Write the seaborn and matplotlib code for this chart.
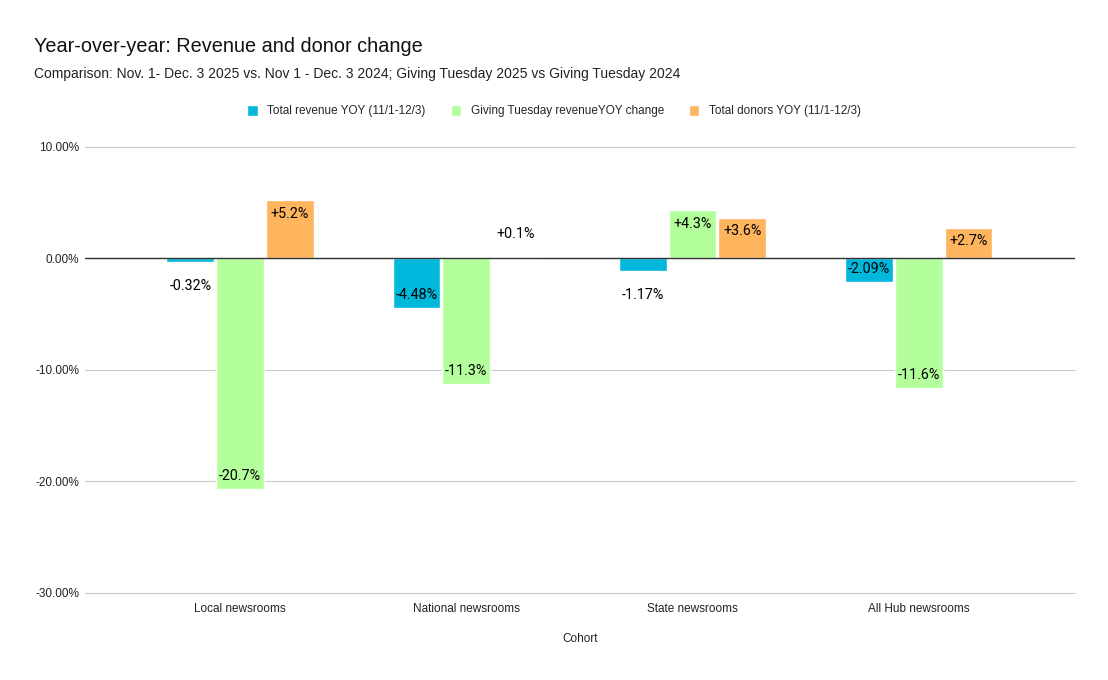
import pandas as pd
import seaborn as sns
import matplotlib.pyplot as plt
from matplotlib.ticker import FuncFormatter

# Données
cohorts = ['Local newsrooms', 'National newsrooms', 'State newsrooms', 'All Hub newsrooms']
series = ['Total revenue YOY (11/1-12/3)', 'Giving Tuesday revenueYOY change', 'Total donors YOY (11/1-12/3)']
total_revenue = [-0.32, -4.48, -1.17, -2.09]
giving_tuesday = [-20.7, -11.3, 4.3, -11.6]
total_donors = [5.2, 0.1, 3.6, 2.7]
label_fmt = ['{:+.2f}%', '{:+.1f}%', '{:+.1f}%']
colors = ['#00b8dc', '#b3ff9c', '#ffb45e']

rows = []
for s, vals in zip(series, [total_revenue, giving_tuesday, total_donors]):
    for c, v in zip(cohorts, vals):
        rows.append({'Cohort': c, 'serie': s, 'valeur': v})
df = pd.DataFrame(rows)

sns.set_style('white')
plt.rcParams['font.family'] = ['Liberation Sans', 'DejaVu Sans']

fig = plt.figure(figsize=(11.08, 6.8), dpi=100)
ax = fig.add_axes([0.0767, 0.128, 0.8933, 0.656])

sns.barplot(data=df, x='Cohort', y='valeur', hue='serie', hue_order=series,
            order=cohorts, palette=colors, width=0.66, gap=0.04,
            saturation=1, ax=ax, legend=True)

# Étiquettes des barres
for cont, fmt in zip(ax.containers, label_fmt):
    for bar, v in zip(cont, cont.datavalues):
        txt = fmt.format(v)
        if v < 0:
            txt = txt.replace('+', '')
        x = bar.get_x() + bar.get_width() / 2
        inside = abs(v) > 1.5
        sign = 1 if v >= 0 else -1
        off = -9.5 * sign if inside else 17 * sign
        ax.annotate(txt, (x, v), xytext=(0, off), textcoords='offset points',
                    ha='center', va='center', fontsize=10.3,
                    family=['Roboto', 'DejaVu Sans'], color='#000000')

ax.set_ylim(-30, 10)
ax.set_xlim(-0.686, 3.69)
ax.set_yticks([-30, -20, -10, 0, 10])
ax.yaxis.set_major_formatter(FuncFormatter(lambda v, p: f'{v:.2f}%'))
ax.grid(axis='y', color='#cccccc', linewidth=0.8)
for gl in ax.get_ygridlines():
    gl.set_clip_on(False)
ax.set_axisbelow(True)
ax.axhline(0, color='#333333', linewidth=1, zorder=3)
for sp in ax.spines.values():
    sp.set_visible(False)
ax.tick_params(axis='both', length=0, labelsize=8.5, colors='#222222')
ax.tick_params(axis='y', pad=4)
ax.tick_params(axis='x', pad=7)
ax.set_xlabel('Cohort', fontsize=8.5, color='#222222', labelpad=13)
ax.set_ylabel('')

handles, labels = ax.get_legend_handles_labels()
ax.get_legend().remove()
fig.legend(handles, labels, loc='center', bbox_to_anchor=(0.5, 1 - 111 / 680),
           ncol=3, frameon=False, fontsize=8.5, handlelength=0.9, handleheight=1.1,
           columnspacing=2.1, handletextpad=0.8)

fig.text(34 / 1108, 1 - 47 / 680, 'Year-over-year: Revenue and donor change',
         fontsize=14.3, color='#111111', va='center')
fig.text(34 / 1108, 1 - 74 / 680,
         'Comparison: Nov. 1- Dec. 3 2025 vs. Nov 1 - Dec. 3 2024; Giving Tuesday 2025 vs Giving Tuesday 2024',
         fontsize=10, color='#222222', va='center')

fig.savefig('out.png', dpi=100, facecolor='white')
